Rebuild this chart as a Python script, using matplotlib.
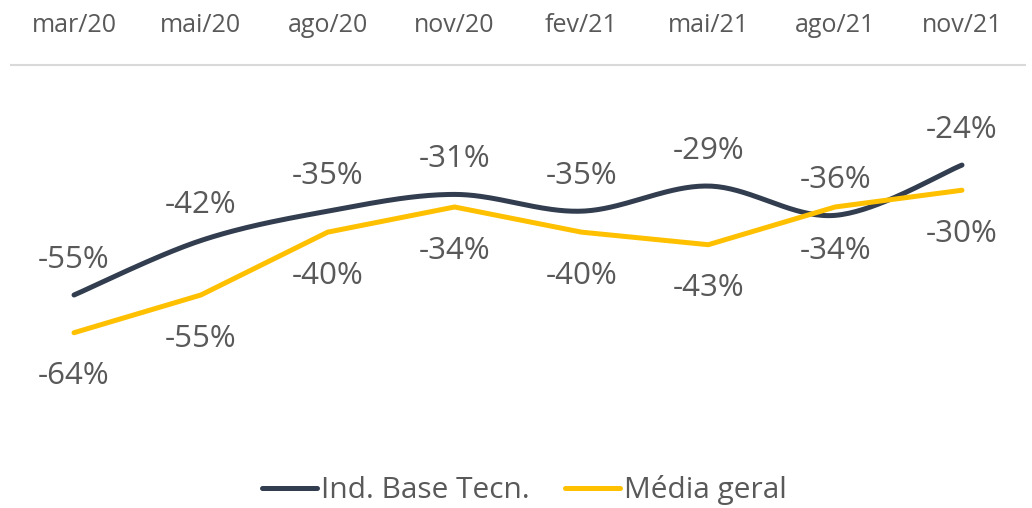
import numpy as np
import matplotlib
matplotlib.use("Agg")
import matplotlib.pyplot as plt

# dados
meses = ["mar/20", "mai/20", "ago/20", "nov/20", "fev/21", "mai/21", "ago/21", "nov/21"]
ind_base_tecn = [-55, -42, -35, -31, -35, -29, -36, -24]
media_geral = [-64, -55, -40, -34, -40, -43, -34, -30]

cor_navy = "#323E50"
cor_amarelo = "#FFC000"
cor_texto = "#595959"

plt.rcParams["font.family"] = ["Open Sans", "DejaVu Sans"]


def suavizar(x, y, n=40):
    # curva tipo Excel (bezier com pontos de controle catmull-rom)
    p = np.column_stack([x, y]).astype(float)
    ext = np.vstack([p[0], p, p[-1]])
    xs, ys = [], []
    t = np.linspace(0, 1, n)
    for i in range(len(p) - 1):
        p0, p1, p2, p3 = ext[i], ext[i + 1], ext[i + 2], ext[i + 3]
        c1 = p1 + (p2 - p0) / 6
        c2 = p2 - (p3 - p1) / 6
        b = (((1 - t) ** 3)[:, None] * p1 + (3 * (1 - t) ** 2 * t)[:, None] * c1
             + (3 * (1 - t) * t ** 2)[:, None] * c2 + (t ** 3)[:, None] * p2)
        xs.append(b[:, 0])
        ys.append(b[:, 1])
    return np.concatenate(xs), np.concatenate(ys)


fig = plt.figure(figsize=(10.32, 5.08), dpi=100)
ax = fig.add_axes([10.6 / 1032, 1 - 440 / 508, (1025.4 - 10.6) / 1032, (440 - 64.5) / 508])

x = np.arange(len(meses))
sx, sy = suavizar(x, ind_base_tecn)
ax.plot(sx, sy, color=cor_navy, lw=3.6, solid_capstyle="round", label="Ind. Base Tecn.")
ax.plot(x, media_geral, color=cor_amarelo, lw=3.6, solid_capstyle="round",
        solid_joinstyle="round", label="Média geral")

for xi, v in zip(x, ind_base_tecn):
    ax.annotate(f"{v}%", (xi, v), xytext=(0, 25.5), textcoords="offset points",
                ha="center", va="center", fontsize=22.5, color=cor_texto)
for xi, v in zip(x, media_geral):
    ax.annotate(f"{v}%", (xi, v), xytext=(0, -31.5), textcoords="offset points",
                ha="center", va="center", fontsize=22.5, color=cor_texto)

ax.set_xlim(-0.5, len(meses) - 0.5)
ax.set_ylim(-89.6, 0)
ax.set_xticks(x)
ax.set_xticklabels(meses)
ax.xaxis.tick_top()
ax.tick_params(axis="x", length=0, pad=19, labelsize=18, labelcolor=cor_texto)
ax.set_yticks([])
for s in ["left", "right", "bottom"]:
    ax.spines[s].set_visible(False)
ax.spines["top"].set_color("#D9D9D9")
ax.spines["top"].set_linewidth(1.5)

fig.legend(loc="center", bbox_to_anchor=(0.508, 1 - 490 / 508), ncol=2, frameon=False,
           fontsize=21.5, labelcolor=cor_texto, handlelength=1.85, handletextpad=0.12,
           columnspacing=1.2)

fig.savefig("out.png", dpi=100)
